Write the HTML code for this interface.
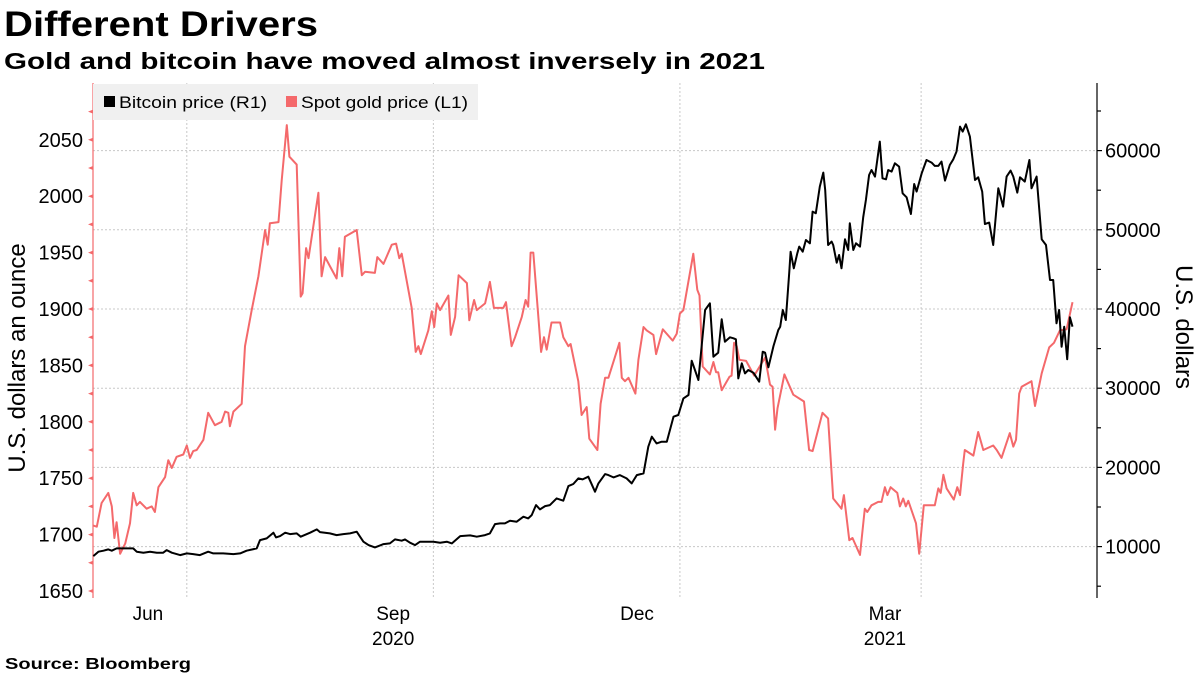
<!DOCTYPE html>
<html><head><meta charset="utf-8"><style>
html,body{margin:0;padding:0;background:#fff;width:1200px;height:675px;overflow:hidden}
svg text{font-family:"Liberation Sans","DejaVu Sans",sans-serif}
</style></head><body>
<svg id="chart" width="1200" height="675" viewBox="0 0 1200 675" xmlns="http://www.w3.org/2000/svg">
<text x="4" y="36" font-size="35" font-weight="bold" textLength="314" lengthAdjust="spacingAndGlyphs">Different Drivers</text>
<text x="4" y="69" font-size="23" font-weight="bold" textLength="761" lengthAdjust="spacingAndGlyphs">Gold and bitcoin have moved almost inversely in 2021</text>
<g id="grid"></g>
<g id="axes"></g>
<g id="series"></g>
<g>
<rect x="93" y="84" width="385" height="36" fill="#f0f0f0"/>
<g>
<rect x="104" y="96" width="11" height="11" fill="#000"/>
<text x="119" y="108" font-size="17" textLength="148" lengthAdjust="spacingAndGlyphs">Bitcoin price (R1)</text></g>
<g>
<rect x="286" y="96" width="11" height="11" fill="#f4696b"/>
<text x="301" y="108" font-size="17" textLength="167" lengthAdjust="spacingAndGlyphs">Spot gold price (L1)</text></g>
</g>
<text transform="translate(25,358) rotate(-90)" text-anchor="middle" font-size="24">U.S. dollars an ounce</text>
<text transform="translate(1176,327) rotate(90)" text-anchor="middle" font-size="24">U.S. dollars</text>
<text x="5" y="669" font-size="16" font-weight="bold" textLength="186" lengthAdjust="spacingAndGlyphs">Source: Bloomberg</text>
</svg>
<script>
// days since 2020-05-27
const goldDays=[0.1,1.4,3.2,5.7,7,8,8.8,10.1,12,13.8,15,16.3,17.5,20,21.9,23.1,24.4,26.9,28.1,29.4,31.2,33.7,35,36.2,37.4,38.7,41.2,43,45.5,48,49.3,50.5,51.1,52.4,55.5,56.7,59.2,61.7,64.2,65.2,66,69.2,70.4,72.3,73.3,76,77.5,78.2,79.5,80.4,84.1,85.3,86.6,88.4,90.9,91.9,93,94,98.4,100.3,101.5,105.2,106.1,108.4,111.5,113.1,114.3,115.2,118.9,120.4,121.4,122.3,125.1,126.4,127.3,128.3,129.5,132.6,133.5,135.1,136.4,139.5,140.4,142.2,143.2,146.3,148.1,149.6,153.1,154.1,156.2,157.5,160,161.4,162.4,163.3,164.3,167.2,168.3,169.3,171.1,174.3,175.5,177.4,178.2,181.1,182.3,184.2,185.2,188.2,189.4,191.1,192.3,196.4,197.3,198.5,199.8,202.4,203.5,205.4,206.6,209.1,210.1,212.6,216.3,217.8,219,220.3,224,225.5,226.3,227.5,230.2,231.5,232.5,233.3,234.6,237.5,238.3,239.2,240.2,241.2,243.7,246.7,250.8,252.6,253.6,254.5,255.4,258,261.3,265.3,267.2,268.5,272.2,274.3,276.2,279.3,280.2,282.2,283.4,286.2,288,288.9,290.5,293,294.2,295.5,296.4,297.6,300.1,301.1,302.3,303.3,304.2,307.1,308.3,310,314.1,315.4,316.3,317.3,318.5,321.2,322.5,323.5,324.7,325.3,328.5,330.3,332.2,335.9,337.2,339,342.1,343.4,344.4,345.6,346.5,350.2,351.5,354,356.8,358.6,360.8,363.3,365.5];
const goldValues=[1708,1707,1728,1737,1725,1697,1711,1683,1692,1710,1737,1726,1729,1723,1725,1720,1742,1751,1766,1759,1769,1771,1779,1768,1774,1775,1784,1808,1797,1800,1809,1808,1796,1809,1816,1867,1899,1929,1970,1957,1976,1977,2014,2063,2035,2028,1911,1914,1954,1945,2003,1929,1946,1938,1927,1954,1929,1964,1970,1930,1933,1932,1946,1940,1957,1958,1945,1949,1901,1862,1867,1860,1881,1898,1884,1905,1899,1912,1877,1893,1930,1923,1890,1908,1899,1905,1924,1901,1901,1906,1867,1875,1893,1908,1902,1950,1950,1862,1875,1864,1888,1888,1875,1867,1869,1836,1806,1813,1785,1775,1816,1839,1839,1870,1839,1836,1839,1825,1855,1884,1881,1877,1860,1882,1872,1878,1896,1899,1949,1917,1912,1849,1842,1853,1844,1844,1828,1840,1841,1870,1867,1855,1854,1841,1857,1833,1831,1793,1812,1842,1824,1818,1775,1774,1808,1803,1732,1723,1735,1695,1697,1682,1723,1720,1726,1729,1729,1742,1735,1742,1737,1725,1732,1725,1730,1710,1683,1726,1726,1741,1737,1753,1741,1731,1742,1735,1763,1775,1770,1791,1775,1779,1775,1768,1790,1778,1784,1825,1831,1836,1814,1843,1866,1870,1881,1882,1906];
const btcDays=[0.1,2,3.9,5.7,7,8.8,11.3,15,16.3,18.8,21.3,23.8,26.2,27.5,29.4,32.5,35,37.4,39.9,43,44.9,48.6,52.4,54.9,57.3,61.1,62.3,64.8,67.3,68.3,69.8,71.7,73.5,76,77.5,81,83.5,84.7,88.4,90.9,93.4,95.9,98.4,100.9,102.8,105.2,108.4,110.8,112.7,115.2,116.4,118.3,120.2,122,124.5,127,129.5,132,133.9,137,140.7,143.2,146.3,148.1,150,151.9,153.7,155.6,158.1,160.6,162.4,163.7,165.3,166.8,168.7,170.5,173,175.5,177.4,179.2,181.1,182.7,184.8,187.3,188.6,191.1,192.3,194.2,196.6,199.1,201,202.9,205.4,207.2,208.5,210.3,212.2,214.1,216.6,218.4,220.3,222.2,223.4,225.9,228.4,230.2,231.5,233.3,234.6,235.8,237.7,239,239.9,240.8,242.1,243.3,244.5,246.4,248.6,249.9,250.8,252,253.9,255.7,256.4,257.4,258.5,259.8,260.3,261.5,262.8,263.5,264.8,266,267.5,268.5,269.7,271.2,272.5,273.2,274.3,275.6,276.2,277.5,278.4,279.3,280.6,281.8,282.4,283.7,284.7,286.2,287.4,288.4,289.6,290.5,291.8,293.6,294.6,295.9,296.7,298,299.2,300.8,302.1,303.6,305.2,306.4,307.3,309.2,311,312.9,314.1,315.4,316.6,317.9,319.7,321,322.2,323.5,324.5,325.7,327.2,329.1,330.3,331.8,332.8,334.4,335.9,337.8,338.7,339.6,340.9,342.4,343.4,344.9,345.9,347.7,349.4,350.2,352.1,354,355.6,357.1,358.3,359.5,360.5,361.4,362.4,363.5,364.5,365.5];
const btcValues=[8804,9352,9478,9647,9478,9773,9773,9773,9352,9226,9352,9226,9226,9563,9226,8930,9141,9057,8930,9352,9141,9141,9057,9141,9478,9773,10825,11036,11752,11162,11330,11752,11583,11667,11246,11752,12172,11836,11667,11457,11583,11667,11878,10615,10194,9899,10320,10404,10909,10741,10909,10488,10194,10615,10615,10615,10488,10615,10404,11330,11414,11246,11457,11667,12845,12930,12930,13266,13140,13772,13562,13982,15245,14698,15119,15245,16087,15793,17645,17898,18613,18487,18824,16929,17982,19160,19034,18739,19034,18613,17982,19034,19245,22613,23876,23034,23245,23245,26402,26613,28718,29138,33475,31033,39874,40716,33980,34485,38695,35874,36421,36295,36169,31243,33138,31875,32296,31960,30823,34612,34485,32633,35327,37348,37769,39874,38611,44715,47241,45137,47031,47873,47241,48715,48294,52294,52083,55451,57219,55030,48084,48505,48084,45852,46820,45137,48799,47452,50820,47452,48294,47873,51578,53767,56925,57556,56714,61135,56504,56377,57556,57346,58398,57977,54609,54104,51999,55788,54820,57135,58819,58482,58062,58062,58609,56209,58187,58903,59872,63029,62398,63324,61766,56293,56630,54820,50736,50905,48084,55241,54104,52925,56714,57472,56714,54693,56630,56083,58819,55241,56714,48799,48084,43663,43663,38190,39874,35243,37769,33643,38948,37769,39958];
const leftTicks=[1650,1700,1750,1800,1850,1900,1950,2000,2050];
const rightTicks=[10000,20000,30000,40000,50000,60000];
const quarterDays=[35,127,219,309];
const monthLabels=["Jun","Sep","Dec","Mar"];
const monthLabelDays=[20.5,112,203,295.5];
const yearLabels=["2020","2021"];
const yearLabelDays=[112,295.5];

const NS="http://www.w3.org/2000/svg";
const X0=93,PXD=2.68,TOP=83,BOT=598,XR=1097;
const xS=d=>X0+d*PXD;
const yL=v=>309-(v-1900)*(56.4/50);
const yR=v=>309-(v-40000)*(79.2/10000);
function mk(tag,attrs,parent){const e=document.createElementNS(NS,tag);for(const k in attrs)e.setAttribute(k,attrs[k]);parent.appendChild(e);return e;}
const grid=document.getElementById('grid'),axes=document.getElementById('axes'),series=document.getElementById('series');
rightTicks.forEach(t=>{const l=mk('line',{x1:X0,x2:XR,y1:yR(t),y2:yR(t),stroke:'#c8c8c8','stroke-dasharray':'2,2','stroke-width':1},grid);

});
quarterDays.forEach(d=>{const l=mk('line',{x1:xS(d),x2:xS(d),y1:TOP,y2:BOT,stroke:'#c8c8c8','stroke-dasharray':'2,2','stroke-width':1},grid);

});
const la=mk('line',{x1:X0,x2:X0,y1:TOP,y2:BOT,stroke:'#f4696b','stroke-width':1.2},axes);


for(let v=1650;v<=2075;v+=25){const t=mk('path',{d:`M${X0},${yL(v)-2}L${X0-5},${yL(v)}L${X0},${yL(v)+2}Z`,fill:'#f4696b'},axes);

}
leftTicks.forEach(v=>{const t=mk('text',{x:83,y:yL(v)+7,'text-anchor':'end','font-size':20},axes);t.textContent=v;

});
const ra=mk('line',{x1:XR,x2:XR,y1:TOP,y2:BOT,stroke:'#000','stroke-width':1.2},axes);


for(let v=5000;v<=65000;v+=5000){const major=v%10000===0;const t=mk('line',{x1:XR,x2:XR+(major?5:4),y1:yR(v),y2:yR(v),stroke:'#000','stroke-width':1.2},axes);

}
rightTicks.forEach(v=>{const t=mk('text',{x:1105,y:yR(v)+7,'font-size':20},axes);t.textContent=v;

});
monthLabels.forEach((m,i)=>{const t=mk('text',{x:xS(monthLabelDays[i]),y:620,'text-anchor':'middle','font-size':19},axes);t.textContent=m;

});
yearLabels.forEach((m,i)=>{const t=mk('text',{x:xS(yearLabelDays[i]),y:645,'text-anchor':'middle','font-size':19},axes);t.textContent=m;

});
const gp=mk('polyline',{points:goldDays.map((d,i)=>xS(d).toFixed(1)+','+yL(goldValues[i]).toFixed(1)).join(' '),fill:'none',stroke:'#f4696b','stroke-width':2,'stroke-linejoin':'round'},series);


const bp=mk('polyline',{points:btcDays.map((d,i)=>xS(d).toFixed(1)+','+yR(btcValues[i]).toFixed(1)).join(' '),fill:'none',stroke:'#000','stroke-width':2,'stroke-linejoin':'round'},series);


</script>
</body></html>
